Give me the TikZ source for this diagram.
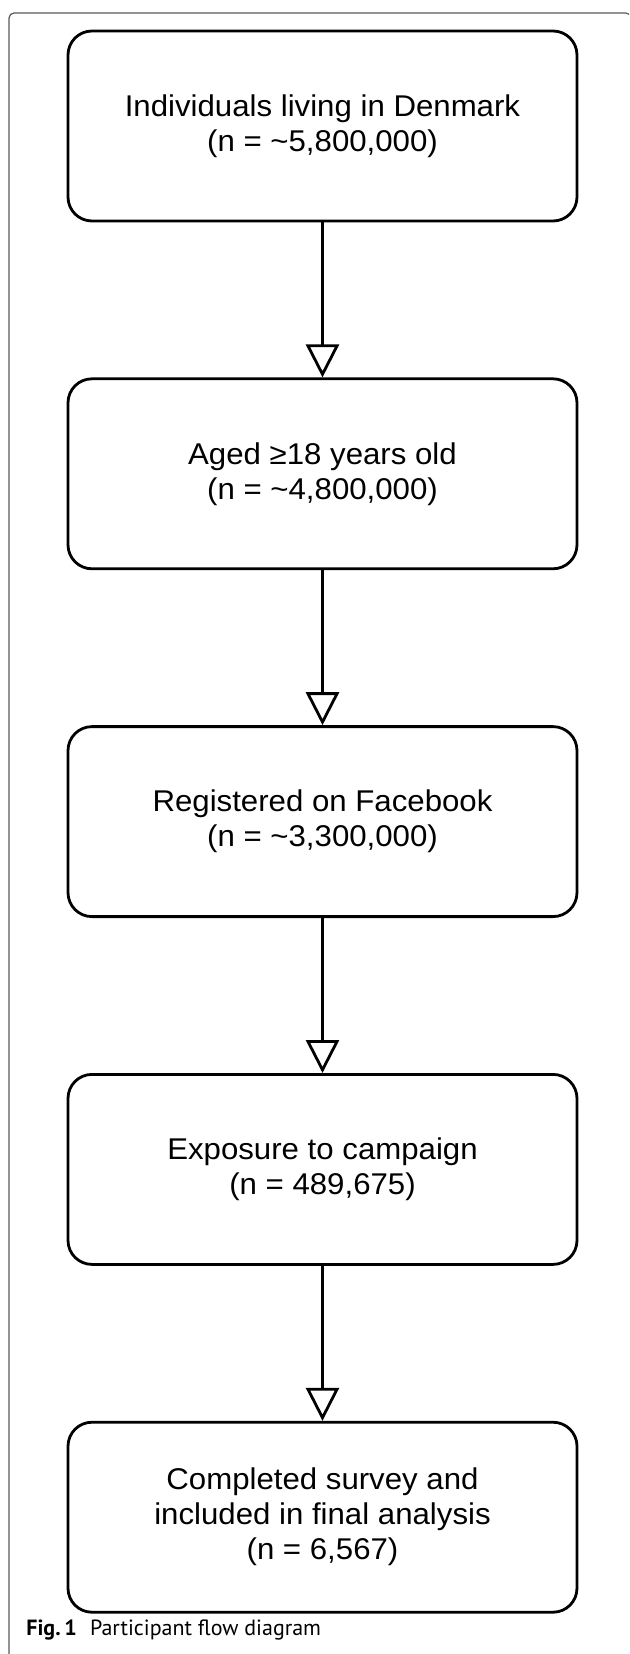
\documentclass[tikz,border=0pt]{standalone}
\usepackage{fontspec}
\setmainfont{Liberation Sans}[FakeStretch=1.04]
\newfontfamily\capfont{PT Sans}
\usetikzlibrary{positioning, arrows.meta}

\begin{document}
\begin{tikzpicture}[
		x=0.5pt, y=-0.5pt,
		font=\fontsize{15pt}{17.5pt}\selectfont,
		stage/.style={
			draw,
			rounded corners=12pt,
			line width=1.4pt,
			align=center,
			minimum width=254.5pt,
			minimum height=95pt,
			inner sep=0pt
		},
		flow/.style={
			-{Triangle[open, length=16.5pt, width=16.5pt, line width=1.4pt]},
			line width=1.4pt
		}
		]
		\useasboundingbox (0,0) rectangle (629,1654);
		
		% --- Outer frame ---
		\begin{scope}
			\clip (0,0) rectangle (629,1654);
			\draw[gray!70!black, line width=0.6pt, rounded corners=2.5pt] (9,13) rectangle (631,1660);
		\end{scope}
		
		% --- Population ---
		\node[stage] (pop) at (322.5,126) {
			Individuals living in Denmark\\
			(n = \textasciitilde5,800,000)
		};
		
		% --- Adults ---
		\node[stage, below=77.5pt of pop] (adult) {
			Aged ≥18 years old\\
			(n = \textasciitilde4,800,000)
		};
		
		% --- Facebook ---
		\node[stage, below=77.5pt of adult] (fb) {
			Registered on Facebook\\
			(n = \textasciitilde3,300,000)
		};
		
		% --- Campaign ---
		\node[stage, below=77.5pt of fb] (expo) {
			Exposure to campaign\\
			(n = 489,675)
		};
		
		% --- Survey (bottom) ---
		\node[stage, below=77.5pt of expo] (survey) {
			Completed survey and\\
			included in final analysis\\
			(n = 6,567)
		};
		
		\draw[flow] (pop) -- (adult);
		\draw[flow] (adult) -- (fb);
		\draw[flow] (fb) -- (expo);
		\draw[flow] (expo) -- (survey);
		
		% --- Caption ---
		\node[anchor=west, inner sep=0pt, font=\capfont\fontsize{11pt}{12pt}\selectfont] (cap) at (26,1630) {
			\textbf{Fig.\,1}\hspace{0.6em}Participant flow diagram
		};
		
	\end{tikzpicture}
\end{document}
